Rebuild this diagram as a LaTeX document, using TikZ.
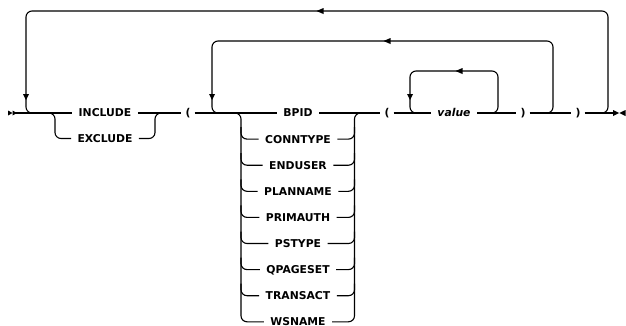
\documentclass[tikz,border=0pt]{standalone}
\usepackage{fontspec}
\setmainfont{DejaVu Sans}
\begin{document}
\begin{tikzpicture}[x=1pt,y=-1pt,line width=1.1pt,
  kw/.style={font=\fontsize{10.8}{12}\selectfont\bfseries, inner xsep=6pt, inner ysep=0pt, text height=7.8pt, text depth=0pt},
  var/.style={kw, font=\fontsize{10.8}{12}\selectfont\bfseries\itshape},
  par/.style={kw, inner xsep=3.5pt},
  rc/.style={rounded corners=6pt},
  larr/.pic={\fill (-3.5,0) -- (3.5,-3) -- (3.5,3) -- cycle;},
  darr/.pic={\fill (0,3) -- (-3,-3) -- (3,-3) -- cycle;},
  rtri/.pic={\fill (0,-2.5) -- (4.5,0) -- (0,2.5) -- cycle;},
  rbig/.pic={\fill (0,-3) -- (6.2,0) -- (0,3) -- cycle;},
  lbig/.pic={\fill (0,-3) -- (-6.2,0) -- (0,3) -- cycle;}]
\useasboundingbox (0,0) rectangle (626,325);

% start / end markers
\pic at (8,113) {rtri};
\pic at (12.5,113) {rtri};
\pic at (613,113) {rbig};
\pic at (625.5,113) {lbig};
\coordinate (s) at (15,113);
\coordinate (e) at (616,113);

% nodes
\node[kw] (inc) at (105,113) {INCLUDE};
\node[kw] (exc) at (105,138.5) {EXCLUDE};
\node[par] (lp1) at (188,113) {(};
\node[kw] (r1) at (298,113) {BPID};
\node[kw] (r2) at (298,139.1) {CONNTYPE};
\node[kw] (r3) at (298,165.2) {ENDUSER};
\node[kw] (r4) at (298,191.3) {PLANNAME};
\node[kw] (r5) at (298,217.4) {PRIMAUTH};
\node[kw] (r6) at (298,243.5) {PSTYPE};
\node[kw] (r7) at (298,269.6) {QPAGESET};
\node[kw] (r8) at (298,295.7) {TRANSACT};
\node[kw] (r9) at (298,321.8) {WSNAME};
\node[par] (lp2) at (387,113) {(};
\node[var] (val) at (454,113) {value};
\node[par] (rp1) at (523,113) {)};
\node[par] (rp2) at (578,113) {)};

% main line
\draw (s) -- (inc.west) (inc.east) -- (lp1.west) (lp1.east) -- (r1.west)
      (r1.east) -- (lp2.west) (lp2.east) -- (val.west) (val.east) -- (rp1.west)
      (rp1.east) -- (rp2.west) (rp2.east) -- (e);

% INCLUDE / EXCLUDE branch
\draw[rc] (43,113) -- (55,113) -- (55,138.5) -- (exc.west);
\draw[rc] (exc.east) -- (155,138.5) -- (155,113) -- (167,113);

% keyword branch
\draw[rc] (230,113) -- (241,113) -- (241,321.8) -- (r9.west);
\draw[rc] (r9.east) -- (354.5,321.8) -- (354.5,113) -- (366,113);
\foreach \i/\y in {2/139.1,3/165.2,4/191.3,5/217.4,6/243.5,7/269.6,8/295.7}{
  \draw[rc] (241,\y-12) -- (241,\y) -- (r\i.west);
  \draw[rc] (r\i.east) -- (354.5,\y) -- (354.5,\y-12);
}

% loops
\draw[rc] (596,113) -| (608,11) -| (26,113) -- (38,113);
\draw[rc] (541,113) -| (553,41) -| (212,113) -- (224,113);
\draw[rc] (486,113) -| (498,71) -| (410,113) -- (422,113);

% loop arrows
\pic at (320,11) {larr};
\pic at (26,97) {darr};
\pic at (387,41) {larr};
\pic at (212,97) {darr};
\pic at (459,71) {larr};
\pic at (410,97) {darr};
\end{tikzpicture}
\end{document}
